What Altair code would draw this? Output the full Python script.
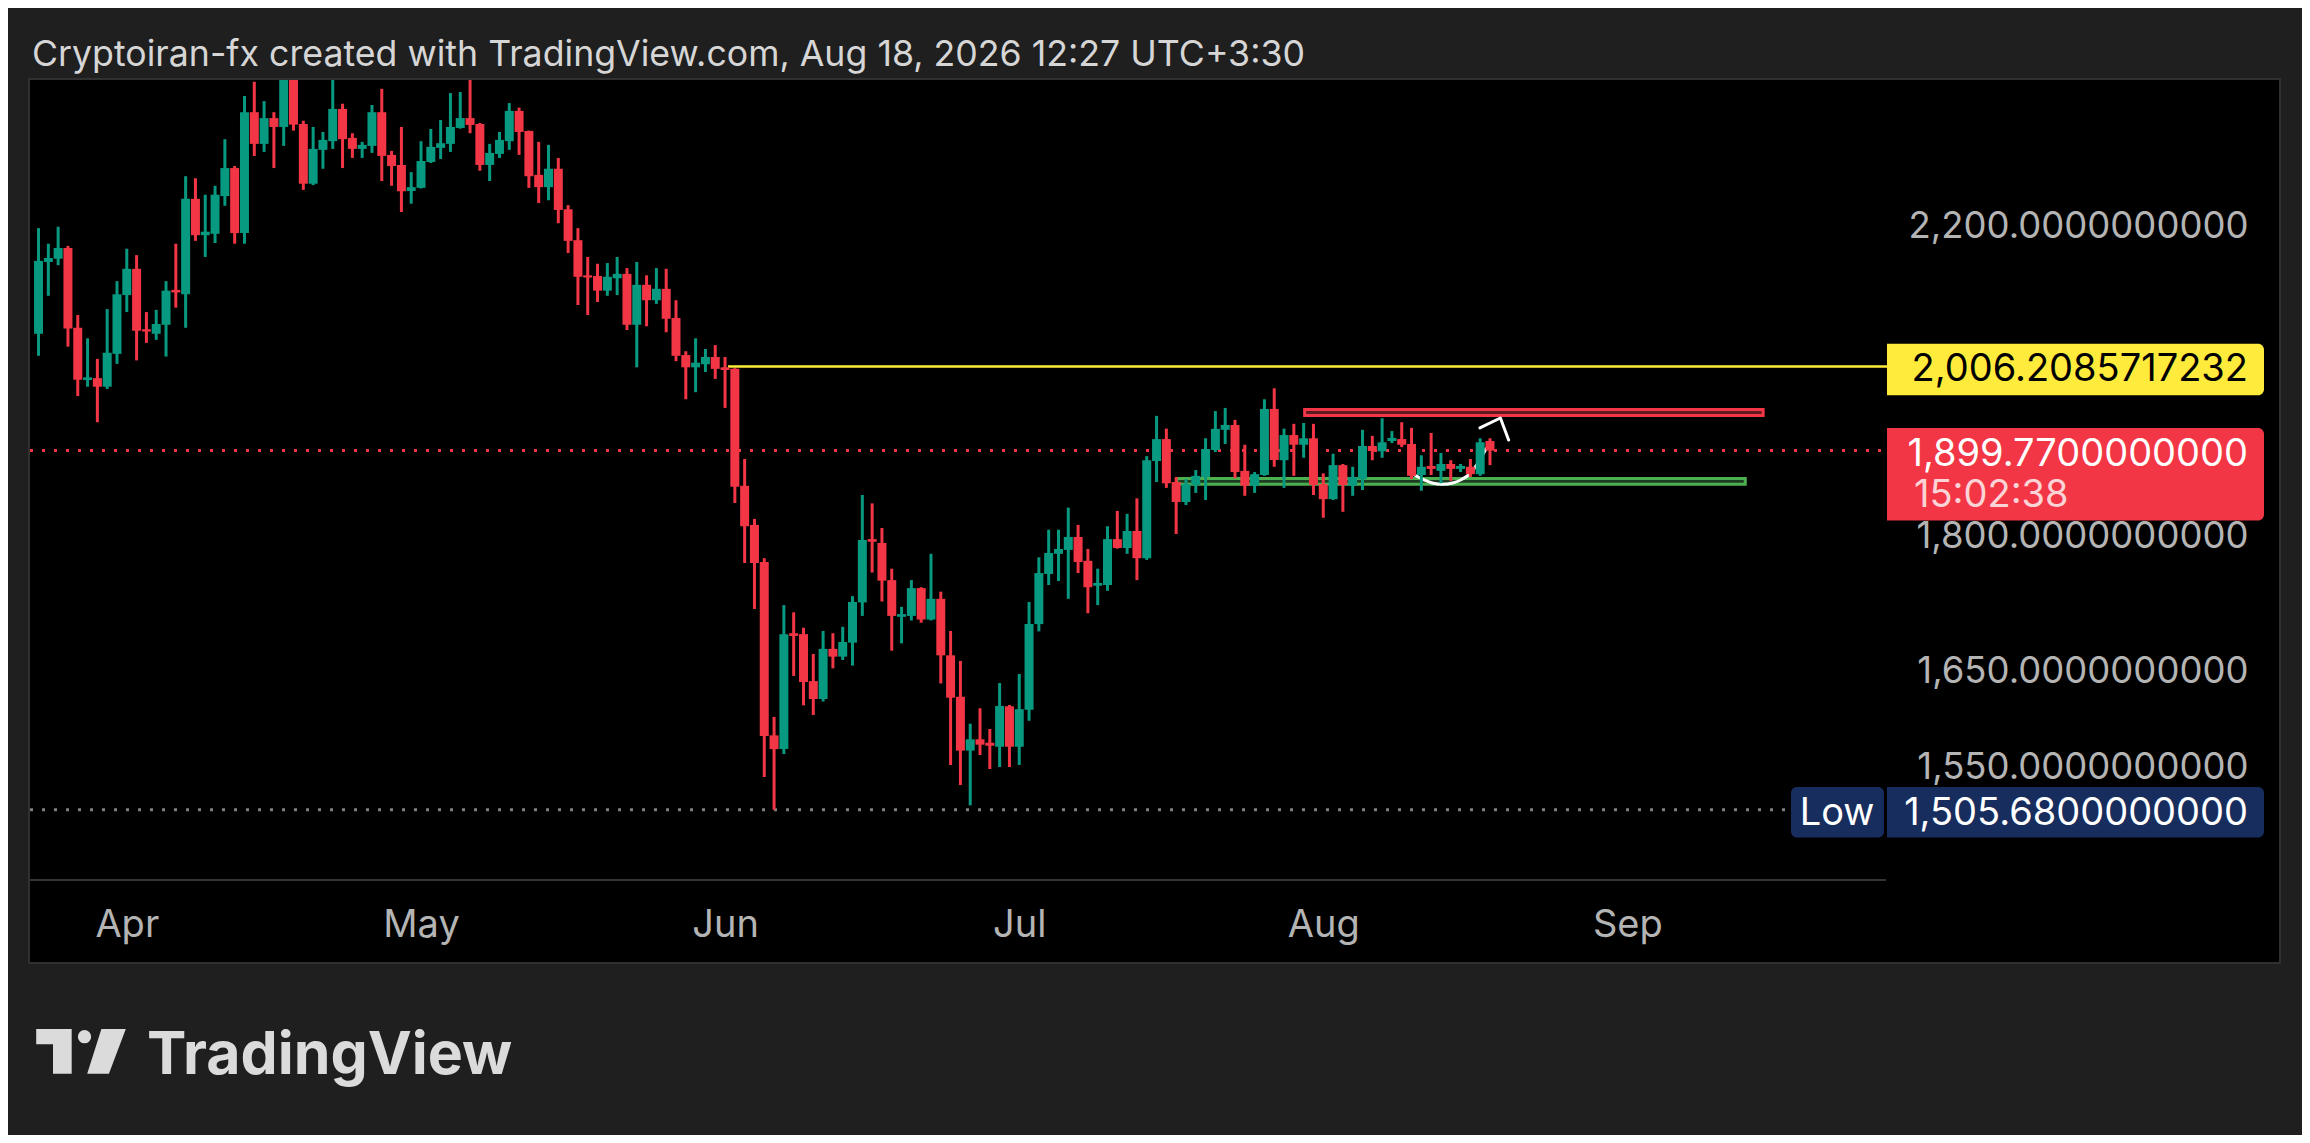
import altair as alt
import pandas as pd

# ---------------- data (daily candles, first candle 2026-03-23) ----------------
FIRST_DAY = "2026-03-23"

OPEN = [
    2049, 2146.5, 2151, 2166, 2057, 1988.6, 1991, 1980, 2022.5, 2101,
    2137, 2055, 2049, 2061, 2108, 2102, 2236, 2184, 2186, 2240,
    2281, 2187, 2365, 2317, 2356, 2342.5, 2425, 2347, 2258, 2308,
    2321, 2370, 2326, 2309.5, 2314, 2365, 2300.5, 2285.6, 2247.4, 2252,
    2290, 2311, 2317, 2341, 2356, 2347, 2285.6, 2302, 2321, 2367,
    2336.5, 2271, 2253, 2280, 2221, 2177, 2128, 2127, 2107, 2124,
    2130, 2061, 2115, 2094, 2109.5, 2070, 2021, 2005, 2009, 2018.5,
    2005, 2003, 1857, 1810.6, 1767.6, 1580, 1566, 1688, 1687, 1636.5,
    1617.6, 1671, 1662.6, 1677.7, 1722, 1794, 1789.5, 1747, 1706, 1707,
    1738, 1703, 1726, 1664, 1620, 1564.5, 1576, 1572.5, 1568.4, 1610,
    1568.4, 1606.5, 1698, 1754, 1777, 1781.5, 1796.5, 1769, 1740.7, 1741.5,
    1794, 1783.7, 1803.5, 1772, 1887, 1914, 1861.6, 1837.6, 1858, 1867.6,
    1900.5, 1925.5, 1931.6, 1875, 1857, 1870, 1951.7, 1888, 1919, 1907,
    1915, 1859, 1841, 1882, 1857, 1865, 1905.5, 1899, 1911.6, 1914,
    1908, 1870, 1881, 1875, 1883.4, 1877.4, 1880, 1871, 1911.6,
]
HIGH = [
    2194, 2172, 2196, 2169, 2074, 2043, 2016, 2082, 2120, 2165,
    2156, 2078, 2081, 2120, 2172, 2269, 2266, 2242, 2255, 2324,
    2284, 2390, 2412, 2382, 2365, 2450, 2445, 2352, 2342.5, 2335,
    2415, 2378, 2333, 2320, 2376, 2401, 2306.5, 2342.5, 2275, 2321,
    2339.5, 2353, 2394.5, 2396, 2420, 2348.5, 2317, 2335, 2379, 2372,
    2337, 2320, 2315.5, 2296, 2227, 2194, 2153.5, 2144, 2145, 2153.5,
    2138, 2146.5, 2128, 2138, 2137, 2094, 2026, 2043, 2029, 2034,
    2018.5, 2004, 1889.5, 1817.6, 1772, 1599, 1719, 1711, 1694, 1665.5,
    1690.5, 1688, 1695, 1729, 1846, 1836, 1807, 1760, 1717, 1747,
    1739, 1777, 1734, 1690.5, 1658, 1592, 1608, 1586.5, 1634.4, 1611.4,
    1644, 1722.5, 1773, 1805, 1805, 1831, 1810.6, 1782.6, 1760, 1809,
    1827, 1823.6, 1842, 1893, 1943, 1927, 1867.6, 1865, 1876, 1915,
    1949, 1953, 1938, 1907, 1873.6, 1964, 1978, 1927, 1933, 1934,
    1933, 1872, 1896, 1883.4, 1880, 1925.5, 1918, 1940, 1924, 1935,
    1928, 1894, 1921.6, 1897, 1888, 1883.4, 1889.5, 1915, 1915,
]
LOW = [
    2020, 2100, 2142, 2032, 1968, 1980, 1935, 1977, 2009.5, 2078,
    2014, 2037, 2041, 2019, 2084, 2057, 2176, 2153.5, 2173, 2226,
    2172, 2172, 2299, 2305, 2281, 2314, 2337, 2249, 2256, 2280,
    2309.5, 2281, 2296, 2296, 2303.5, 2262, 2255, 2217, 2229, 2251,
    2288.5, 2294.5, 2305, 2340, 2333, 2277, 2262, 2296, 2308, 2300.5,
    2252, 2230, 2234, 2201, 2159, 2087.5, 2074, 2091.6, 2100, 2101,
    2054, 2005, 2059, 2089, 2051, 2013, 1964, 1973, 1999, 1990,
    1953, 1836.5, 1766.5, 1714.7, 1538, 1505.68, 1561, 1642, 1611, 1601,
    1615, 1650, 1659, 1653, 1707, 1755.6, 1723, 1669, 1677, 1702,
    1699.5, 1702, 1634, 1550, 1530, 1510, 1560, 1546, 1548, 1548,
    1550, 1595, 1690, 1741.5, 1746, 1726, 1755, 1710, 1719, 1735,
    1783, 1777, 1747, 1770, 1861.6, 1854.5, 1800, 1834, 1848.5, 1840,
    1898, 1908, 1866, 1845, 1848.5, 1869, 1880, 1854.5, 1869, 1891,
    1846, 1819, 1840, 1826, 1845, 1852, 1888, 1891, 1909, 1904,
    1865, 1851, 1870, 1860, 1863, 1873.6, 1867.6, 1869, 1882,
]
CLOSE = [
    2148, 2152, 2166, 2056, 1989, 1992, 1980, 2024, 2102, 2137,
    2053, 2052, 2062, 2107, 2104.5, 2236, 2184, 2189, 2242, 2281,
    2187, 2365, 2317, 2356, 2342.5, 2425, 2346, 2258, 2309.5, 2323,
    2370, 2324, 2309.5, 2315.5, 2365, 2299, 2284, 2247, 2253, 2291.5,
    2312.5, 2318, 2342.5, 2356, 2345.6, 2285.6, 2303.5, 2323, 2367, 2335,
    2269, 2253, 2280, 2220, 2176, 2126, 2125, 2107, 2126, 2130,
    2061, 2115, 2094, 2109.5, 2069, 2020, 2005, 2011, 2018.5, 2003,
    2001.5, 1856, 1809, 1766.5, 1579.4, 1566, 1687, 1685, 1635.5, 1617.6,
    1671, 1662.6, 1678.4, 1722.5, 1793, 1791, 1746.4, 1707, 1709, 1738,
    1703, 1726, 1664, 1619, 1564.5, 1576, 1570.5, 1569.4, 1610.4, 1568.4,
    1607, 1698, 1755, 1778, 1782.6, 1796.5, 1767.6, 1739, 1743.8, 1794,
    1783.7, 1803.5, 1772, 1888, 1914, 1860, 1837.6, 1859, 1869, 1901.7,
    1926.7, 1931.6, 1873.6, 1857, 1871, 1951.7, 1888.3, 1919, 1907, 1915,
    1858, 1841, 1882, 1858, 1867.6, 1905.5, 1899.3, 1910, 1915.4, 1907,
    1869, 1880, 1877.4, 1883.4, 1877.4, 1881, 1871, 1910, 1899.77,
]

LAST_PRICE = 1899.77
LEVEL_PRICE = 2006.2085717232
LOW_PRICE = 1505.68
COUNTDOWN = "15:02:38"
LOW_TAG = "Low"
TITLE = "Cryptoiran-fx created with TradingView.com, Aug 18, 2026 12:27 UTC+3:30"
BRAND = "TradingView"
MONTH_TICKS = ["2026-04-01", "2026-05-01", "2026-06-01", "2026-07-01", "2026-08-01", "2026-09-01"]
PRICE_TICKS = [2200, 1800, 1650, 1550]

# drawings: day offsets from 2026-04-01 and prices
LEVEL_START_DAY = 61.3
RED_ZONE_DAYS = [120.1, 166.85]
RED_ZONE_PRICES = [1951.0, 1943.6]
GREEN_ZONE_DAYS = [107.07, 165.03]
GREEN_ZONE_PRICES = [1865.8, 1859.0]
ARC_DAYS = [131.3, 132.3, 133.1, 134.15, 135.2, 136.0, 137.0, 137.7, 138.6]
ARC_PRICES = [1870, 1864, 1860.4, 1858.8, 1860.4, 1864, 1872, 1883.4, 1902]
ARROW_DAYS = [137.97, 140.06, 140.9]
ARROW_PRICES = [1928, 1940.3, 1912.9]

# ---------------- helpers ----------------
W, H = 1856, 800
GREEN, RED, YELLOW, NAVY = "#089981", "#f23645", "#ffeb3b", "#172d5e"
FONT = "Inter"
TAG_SIZE = 38
AXIS_SIZE = 36.5
AXIS_GRAY = "#b4b4b4"
LOGO_GRAY = "#dbdbdb"

T0 = pd.Timestamp("2026-04-01", tz="UTC")


def ms_at(day):
    return int((T0 + pd.Timedelta(days=float(day))).value // 1_000_000)


def ms_date(s):
    return int(pd.Timestamp(s, tz="UTC").value // 1_000_000)


dates = pd.date_range(FIRST_DAY, periods=len(OPEN), freq="D", tz="UTC")
candles = pd.DataFrame({
    "t": [int(v // 1_000_000) for v in dates.asi8],
    "open": OPEN, "high": HIGH, "low": LOW, "close": CLOSE,
})

x_scale = alt.Scale(type="utc", domain=[ms_at(-9.36), ms_at(178.87)])
y_scale = alt.Scale(type="log", domain=[1438.8, 2414.8], nice=False)

x_axis = alt.Axis(
    values=[ms_date(d) for d in MONTH_TICKS],
    labelExpr="utcFormat(datum.value, '%b')",
    labelFont=FONT, labelFontSize=TAG_SIZE, labelColor=AXIS_GRAY,
    labelPadding=56, labelBaseline="alphabetic", labelAlign="center",
    labelFlush=False, labelOverlap=False, labelLimit=0,
    ticks=False, tickSize=0, domain=False, grid=False, title=None, zindex=2,
)
y_axis = alt.Axis(
    orient="right", values=PRICE_TICKS, format=",.10f",
    labelFont=FONT, labelFontSize=AXIS_SIZE, labelColor=AXIS_GRAY,
    labelAlign="right", labelBaseline="middle", labelPadding=362, labelOffset=3,
    labelOverlap=False, labelFlush=False, labelLimit=0,
    ticks=False, tickSize=0, domain=False, grid=False, title=None, zindex=2,
)


def X(f):
    return alt.X(f, type="temporal", scale=x_scale, axis=x_axis)


def Y(f):
    return alt.Y(f, type="quantitative", scale=y_scale, axis=y_axis)


one = pd.DataFrame({"k": [0]})

# ---------------- frame ----------------
panel = alt.Chart(one).mark_rect(fill="#000000", stroke="#303030", strokeWidth=2).encode(
    x=alt.value(-1), x2=alt.value(2250), y=alt.value(-1), y2=alt.value(883))
separator = alt.Chart(one).mark_rule(color="#353535", strokeWidth=2).encode(
    x=alt.value(0), x2=alt.value(W), y=alt.value(H))

# ---------------- price lines ----------------
low_df = pd.DataFrame({"p": [LOW_PRICE], "label": [f"{LOW_PRICE:,.10f}"], "tag": [LOW_TAG]})
last_df = pd.DataFrame({"p": [LAST_PRICE], "label": [f"{LAST_PRICE:,.10f}"], "cd": [COUNTDOWN]})
lvl_df = pd.DataFrame({"t": [ms_at(LEVEL_START_DAY)], "p": [LEVEL_PRICE], "label": [f"{LEVEL_PRICE:,.10f}"]})

low_line = alt.Chart(low_df).mark_rule(color="#808080", strokeWidth=3, strokeDash=[3, 9]).encode(
    x=alt.value(0), x2=alt.value(1757), y=Y("p"))
last_line = alt.Chart(last_df).mark_rule(color=RED, strokeWidth=3, strokeDash=[3, 9]).encode(
    x=alt.value(0), x2=alt.value(W), y=Y("p"))
level_line = alt.Chart(lvl_df).mark_rule(color=YELLOW, strokeWidth=2.5).encode(
    x=X("t"), x2=alt.value(W + 1), y=Y("p"))

# ---------------- drawings ----------------
red_zone_df = pd.DataFrame({"t1": [ms_at(RED_ZONE_DAYS[0])], "t2": [ms_at(RED_ZONE_DAYS[1])],
                            "p1": [RED_ZONE_PRICES[0]], "p2": [RED_ZONE_PRICES[1]]})
green_zone_df = pd.DataFrame({"t1": [ms_at(GREEN_ZONE_DAYS[0])], "t2": [ms_at(GREEN_ZONE_DAYS[1])],
                              "p1": [GREEN_ZONE_PRICES[0]], "p2": [GREEN_ZONE_PRICES[1]]})
red_zone = alt.Chart(red_zone_df).mark_rect(fill="#5e1a22", stroke=RED, strokeWidth=3).encode(
    x=X("t1"), x2="t2", y=Y("p1"), y2="p2")
green_zone = alt.Chart(green_zone_df).mark_rect(fill="#1f3d22", stroke="#4caf50", strokeWidth=3).encode(
    x=X("t1"), x2="t2", y=Y("p1"), y2="p2")

arc_df = pd.DataFrame({"t": [ms_at(d) for d in ARC_DAYS], "p": ARC_PRICES, "k": list(range(len(ARC_DAYS)))})
arrow_df = pd.DataFrame({"t": [ms_at(d) for d in ARROW_DAYS], "p": ARROW_PRICES, "k": list(range(len(ARROW_DAYS)))})
arc = alt.Chart(arc_df).mark_line(color="#ffffff", strokeWidth=3, interpolate="monotone", strokeCap="round").encode(
    x=X("t"), y=Y("p"), order="k:Q")
arrow = alt.Chart(arrow_df).mark_line(color="#ffffff", strokeWidth=3, strokeCap="round", strokeJoin="round").encode(
    x=X("t"), y=Y("p"), order="k:Q")

# ---------------- candles ----------------
dir_color = alt.Color("dir:N", scale=alt.Scale(domain=["up", "down"], range=[GREEN, RED]), legend=None)
cbase = alt.Chart(candles).transform_calculate(dir="datum.close >= datum.open ? 'up' : 'down'")
wicks = cbase.mark_rule(strokeWidth=3, clip=True).encode(x=X("t"), y=Y("low"), y2="high", color=dir_color)
bodies = cbase.mark_bar(size=9, clip=True).encode(x=X("t"), y=Y("open"), y2="close", color=dir_color)

# ---------------- price-scale tags ----------------
yellow_box = alt.Chart(lvl_df).mark_rect(
    fill=YELLOW, yOffset=-22.6, y2Offset=28.8, cornerRadiusTopRight=6, cornerRadiusBottomRight=6
).encode(x=alt.value(1857), x2=alt.value(2234), y=Y("p"), y2="p")
red_box = alt.Chart(last_df).mark_rect(
    fill=RED, yOffset=-22.6, y2Offset=70, cornerRadiusTopRight=6, cornerRadiusBottomRight=6
).encode(x=alt.value(1857), x2=alt.value(2234), y=Y("p"), y2="p")
navy_box = alt.Chart(low_df).mark_rect(
    fill=NAVY, yOffset=-22.8, y2Offset=27.8, cornerRadiusTopRight=6, cornerRadiusBottomRight=6
).encode(x=alt.value(1857), x2=alt.value(2234), y=Y("p"), y2="p")
low_box = alt.Chart(low_df).mark_rect(
    fill=NAVY, yOffset=-22.8, y2Offset=27.8, cornerRadius=6
).encode(x=alt.value(1761), x2=alt.value(1854), y=Y("p"), y2="p")

tag_text = dict(baseline="middle", dy=4, font=FONT, fontSize=TAG_SIZE)
yellow_txt = alt.Chart(lvl_df).mark_text(align="right", color="#000000", **tag_text).encode(
    x=alt.value(2218), y=Y("p"), text="label:N")
red_txt = alt.Chart(last_df).mark_text(align="right", color="#ffffff", **tag_text).encode(
    x=alt.value(2218), y=Y("p"), text="label:N")
cd_txt = alt.Chart(last_df).mark_text(align="left", color="#ffffff", opacity=0.78, baseline="middle",
                                      dy=45, font=FONT, fontSize=TAG_SIZE).encode(
    x=alt.value(1884), y=Y("p"), text="cd:N")
navy_txt = alt.Chart(low_df).mark_text(align="right", color="#ffffff", **tag_text).encode(
    x=alt.value(2218), y=Y("p"), text="label:N")
low_txt = alt.Chart(low_df).mark_text(align="center", color="#ffffff", **tag_text).encode(
    x=alt.value(1807), y=Y("p"), text="tag:N")

# ---------------- title and logo ----------------
title_txt = alt.Chart(pd.DataFrame({"s": [TITLE]})).mark_text(
    align="left", baseline="alphabetic", font=FONT, fontSize=35.7, color="#d6d6d6"
).encode(x=alt.value(2), y=alt.value(-14.3), text="s:N")

LOGO_PATH = ("M -1 -0.499 L -0.208 -0.499 L -0.208 0.499 L -0.625 0.499 L -0.625 -0.157 L -1 -0.157 Z "
             "M 0.455 -0.499 L 1 -0.499 L 0.623 0.499 L 0.138 0.499 Z")
logo_shape = alt.Chart(one).mark_point(shape=LOGO_PATH, filled=True, color=LOGO_GRAY, opacity=1,
                                       size=8028, strokeWidth=0).encode(
    x=alt.value(51), y=alt.value(971.35))
logo_dot = alt.Chart(one).mark_point(shape="circle", filled=True, color=LOGO_GRAY, opacity=1,
                                     size=177, strokeWidth=0).encode(
    x=alt.value(54.5), y=alt.value(956.7))
logo_txt = alt.Chart(pd.DataFrame({"s": [BRAND]})).mark_text(
    align="left", baseline="alphabetic", font=FONT, fontSize=59, fontWeight="bold", color=LOGO_GRAY
).encode(x=alt.value(117), y=alt.value(993.7), text="s:N")

chart = alt.layer(
    panel, separator, low_line, last_line, red_zone, green_zone, level_line, arc, arrow,
    wicks, bodies,
    yellow_box, red_box, navy_box, low_box,
    yellow_txt, red_txt, cd_txt, navy_txt, low_txt,
    title_txt, logo_shape, logo_dot, logo_txt,
).properties(
    width=W, height=H,
    autosize=alt.AutoSizeParams(type="none"),
    padding={"left": 22, "top": 72, "right": 416, "bottom": 255},
    background="#1f1f1f",
).configure_view(strokeWidth=0)

chart.save("out.html", embed_options={"renderer": "svg", "actions": False})
